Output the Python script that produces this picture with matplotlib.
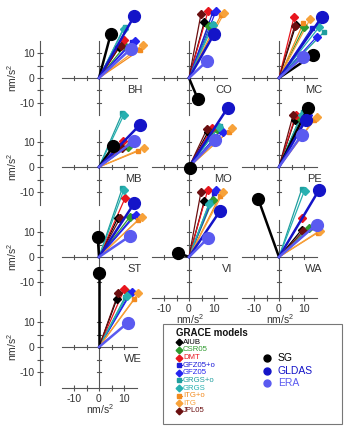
import numpy as np
import matplotlib
matplotlib.use('Agg')
import matplotlib.pyplot as plt
from matplotlib.patches import Rectangle

plt.rcParams['font.family'] = ['Liberation Sans', 'DejaVu Sans']
plt.rcParams['mathtext.fontset'] = 'custom'
plt.rcParams['mathtext.rm'] = 'Liberation Sans'

# ---------------- data (nm/s^2): in-phase (x) and quadrature (y) -------------
stations = ['BH', 'CO', 'MC', 'MB', 'MO', 'PE', 'ST', 'VI', 'WA', 'WE']
grace_models = ['AIUB', 'CSR05', 'DMT', 'GFZ05+o', 'GFZ05',
                'GRGS+o', 'GRGS', 'ITG+o', 'ITG', 'JPL05']
hydro_models = ['SG', 'GLDAS', 'ERA']

AIUB_x = [8.0, 6.1, 6.8, 8.4, 7.7, 6.3, 7.6, 6.1, 9.0, 7.1]
AIUB_y = [12.5, 22.4, 21.3, 8.0, 14.1, 18.8, 15.8, 22.4, 10.8, 19.1]
CSR05_x = [10.5, 7.8, 10.0, 11.5, 11.0, 8.4, 12.4, 9.5, 11.9, 11.7]
CSR05_y = [13.0, 21.0, 20.3, 8.2, 15.3, 19.6, 16.1, 22.8, 11.6, 21.7]
DMT_x = [10.0, 7.7, 6.0, 9.5, 9.1, 6.7, 10.4, 7.5, 9.3, 10.1]
DMT_y = [15.3, 27.0, 24.3, 10.4, 15.5, 20.8, 23.5, 26.8, 15.7, 23.1]
GFZ05o_x = [13.2, 9.5, 13.1, 12.5, 12.8, 10.6, 13.8, 10.0, 13.7, 12.5]
GFZ05o_y = [14.6, 26.2, 19.9, 9.6, 14.6, 19.5, 16.4, 25.8, 12.1, 21.7]
GFZ05_x = [14.2, 10.8, 15.1, 13.3, 13.7, 11.6, 14.7, 10.7, 14.6, 13.1]
GFZ05_y = [15.0, 26.8, 16.5, 9.9, 14.1, 21.0, 16.8, 26.8, 12.6, 22.1]
GRGSo_x = [10.4, 9.4, 18.1, 9.3, 12.4, 9.6, 9.3, 8.4, 9.1, 10.4]
GRGSo_y = [20.6, 21.8, 18.5, 21.5, 16.6, 22.0, 27.5, 22.1, 27.2, 19.9]
GRGS_x = [9.8, 9.7, 16.0, 10.0, 11.9, 9.0, 10.0, 8.0, 10.2, 11.0]
GRGS_y = [19.8, 21.2, 20.3, 21.0, 15.9, 21.0, 27.0, 21.4, 26.6, 20.3]
ITGo_x = [16.4, 12.8, 9.7, 15.7, 15.8, 14.0, 15.7, 12.4, 15.6, 14.1]
ITGo_y = [11.2, 25.2, 21.9, 6.4, 14.2, 19.0, 14.8, 24.5, 9.8, 19.1]
ITG_x = [17.7, 14.1, 12.4, 18.0, 17.1, 15.1, 17.1, 13.7, 16.4, 15.7]
ITG_y = [13.4, 26.1, 23.5, 7.7, 15.5, 20.1, 16.1, 25.9, 10.6, 21.5]
JPL05_x = [8.6, 4.8, 6.3, 9.0, 7.2, 5.7, 8.4, 4.8, 9.7, 7.7]
JPL05_y = [13.0, 25.6, 21.0, 7.6, 15.2, 21.0, 15.5, 26.1, 10.4, 21.5]

SG_x = [4.7, 3.5, 13.5, 5.7, 0.3, 11.6, -0.5, -4.6, -8.3, 0.0]
SG_y = [17.6, -8.3, 9.1, 8.3, -0.2, 23.7, 8.0, 1.8, 23.2, 29.8]
GLDAS_x = [14.1, 10.1, 17.1, 16.4, 15.5, 10.7, 14.1, 12.4, 16.0, np.nan]
GLDAS_y = [24.8, 17.7, 24.3, 16.9, 23.7, 18.8, 21.5, 18.4, 26.8, np.nan]
ERA_x = [12.8, 7.1, 9.5, 14.0, 10.4, 9.1, 12.4, 7.5, 15.0, 11.5]
ERA_y = [11.7, 6.7, 8.4, 10.4, 10.8, 12.8, 8.4, 7.5, 13.0, 9.7]

axis_ticks = [-10, -5, 0, 5, 10]
axis_ticklabels = ['-10', '', '0', '', '10']

# ---------------- styles -----------------------------------------------------
grace_data = [(AIUB_x, AIUB_y), (CSR05_x, CSR05_y), (DMT_x, DMT_y),
              (GFZ05o_x, GFZ05o_y), (GFZ05_x, GFZ05_y),
              (GRGSo_x, GRGSo_y), (GRGS_x, GRGS_y),
              (ITGo_x, ITGo_y), (ITG_x, ITG_y), (JPL05_x, JPL05_y)]
grace_colors = ['#000000', '#2f9a2f', '#e8161e', '#1c1cd8', '#2424f0',
                '#1f9e9e', '#27b0b0', '#f28a1e', '#f7a23a', '#6b0f10']
grace_markers = ['D', 'D', 'D', 's', 'D', 's', 'D', 's', 'D', 'D']
hydro_data = [(SG_x, SG_y), (GLDAS_x, GLDAS_y), (ERA_x, ERA_y)]
hydro_colors = ['#000000', '#1414c8', '#5a5af0']

W, H = 345, 426
fig = plt.figure(figsize=(W / 100, H / 100), dpi=100)
col_x = [99, 189, 279]
row_y = [78, 167, 257, 347]
half = 45
lim = 18
axcol = '#555555'
bottom_panels = ['VI', 'WA', 'WE']

for i, st in enumerate(stations):
    r, c = divmod(i, 3)
    ox, oy = col_x[c], row_y[r]
    ax = fig.add_axes([(ox - half) / W, 1 - (oy + half) / H,
                       2 * half / W, 2 * half / H])
    ax.set_xlim(-lim, lim)
    ax.set_ylim(-lim, lim)
    ax.patch.set_alpha(0)
    for s in ['top', 'right']:
        ax.spines[s].set_visible(False)

    # left spine
    if c == 0:
        sp = ax.spines['left']
        sp.set_position(('outward', 10))
        sp.set_bounds(-15, 15)
        sp.set_color(axcol)
        sp.set_linewidth(0.8)
        ax.set_yticks(axis_ticks)
        ax.set_yticklabels(axis_ticklabels)
        ax.tick_params(axis='y', direction='inout', length=4, width=0.8,
                       color=axcol, labelsize=7.5, pad=2, labelcolor='#333333')
        ax.text(-34.8, 0, 'nm/s$^2$', rotation=90, ha='center', va='center',
                fontsize=7.5, color='#333333')
    else:
        ax.spines['left'].set_visible(False)
        ax.set_yticks([])

    if st in bottom_panels:
        sp = ax.spines['bottom']
        sp.set_position(('data', -16.4))
        sp.set_bounds(-15, 15)
        sp.set_color(axcol)
        sp.set_linewidth(0.8)
        ax.set_xticks(axis_ticks)
        ax.set_xticklabels(axis_ticklabels)
        ax.tick_params(axis='x', direction='inout', length=4, width=0.8,
                       color=axcol, labelsize=7.5, pad=2, labelcolor='#333333')
        ax.text(0.4, -25.0, 'nm/s$^2$', ha='center', va='center',
                fontsize=7.5, color='#333333')
    else:
        ax.spines['bottom'].set_visible(False)
        ax.set_xticks([])

    # axes through origin
    ax.plot([-15, 15], [0, 0], color=axcol, lw=0.8, zorder=1)
    ax.plot([0, 0], [-15, 15], color=axcol, lw=0.8, zorder=1)
    for t in [-10, -5, 5, 10]:
        ax.plot([t, t], [-0.8, 0.8], color=axcol, lw=0.8, zorder=1)
        ax.plot([-0.8, 0.8], [t, t], color=axcol, lw=0.8, zorder=1)

    ax.text(17.2, -4.8, st, ha='right', va='center', fontsize=8,
            color='#333333')

    # GRACE vectors
    for (gx, gy), col, mk in zip(grace_data, grace_colors, grace_markers):
        x, y = gx[i], gy[i]
        ax.plot([0, x], [0, y], color=col, lw=0.9, clip_on=False, zorder=3)
        ax.plot([x], [y], marker=mk, ms=3.6 if mk == 'D' else 3.4,
                color=col, clip_on=False, zorder=4)
    # hydrology / SG vectors
    for (hx, hy), col in zip(hydro_data, hydro_colors):
        x, y = hx[i], hy[i]
        if np.isnan(x):
            continue
        ax.plot([0, x], [0, y], color=col, lw=1.8, clip_on=False, zorder=5)
        ax.plot([x], [y], marker='o', ms=8.5, color=col, clip_on=False,
                zorder=6)

# ---------------- legend -----------------------------------------------------
lg = fig.add_axes([0, 0, 1, 1])
lg.set_xlim(0, W)
lg.set_ylim(H, 0)
lg.axis('off')
lg.patch.set_alpha(0)
lg.add_patch(Rectangle((163, 324), 179, 100, fill=False, ec='#777777', lw=0.8))
lg.text(176, 332.5, 'GRACE models', fontsize=7, fontweight='bold',
        ha='left', va='center', color='#111111')
for k, (name, col, mk) in enumerate(zip(grace_models, grace_colors,
                                         grace_markers)):
    yy = 342.3 + k * 7.63
    lg.plot([176.5, 181.5], [yy, yy], color=col, lw=0.8)
    lg.plot([179], [yy], marker=mk, ms=3.4 if mk == 'D' else 3.2, color=col)
    lg.text(183, yy, name, fontsize=5.6, ha='left', va='center', color=col)
for k, (name, col) in enumerate(zip(hydro_models, hydro_colors)):
    yy = 358.3 + k * 12.5
    lg.plot([267], [yy], marker='o', ms=5, color=col)
    lg.text(278, yy, name, fontsize=7.5, ha='left', va='center', color=col)

fig.savefig('out.png', dpi=100)
